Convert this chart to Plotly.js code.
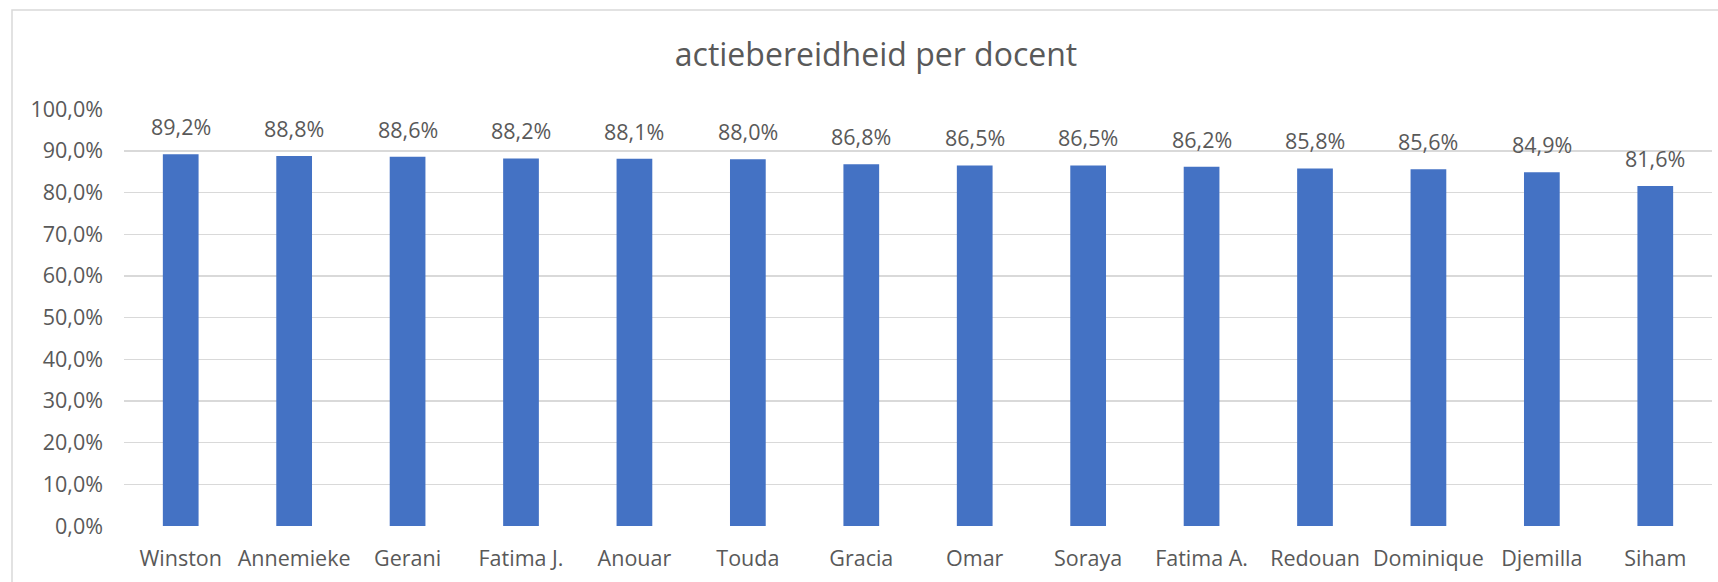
<!DOCTYPE html>
<html>
<head>
<meta charset="utf-8">
<script src="https://cdn.plot.ly/plotly-3.0.1.min.js"></script>
<style>
  html, body { margin: 0; padding: 0; background: #ffffff; }
  #chart { width: 1718px; height: 582px; }
</style>
</head>
<body>
<div id="chart"></div>
<script>
// ---- data ----
const categories = ['Winston', 'Annemieke', 'Gerani', 'Fatima J.', 'Anouar', 'Touda', 'Gracia',
                    'Omar', 'Soraya', 'Fatima A.', 'Redouan', 'Dominique', 'Djemilla', 'Siham'];
const values = [0.892, 0.888, 0.886, 0.882, 0.881, 0.880, 0.868,
                0.865, 0.865, 0.862, 0.858, 0.856, 0.849, 0.816];
const titleText = 'actiebereidheid per docent';

// ---- styles ----
const FONT = 'Open Sans, Noto Sans, sans-serif';
const TEXT_COLOR = '#595959';
const BAR_COLOR = '#4472C4';
const GRID_COLOR = '#D9D9D9';

function fmtPct(v) {
  return (v * 100).toFixed(1).replace('.', ',') + '%';
}

const trace = {
  type: 'bar',
  x: categories,
  y: values,
  marker: { color: BAR_COLOR, line: { width: 0 } },
  hoverinfo: 'x+y'
};

const annotations = categories.map((c, i) => ({
  x: c,
  y: values[i],
  xref: 'x',
  yref: 'y',
  text: fmtPct(values[i]),
  showarrow: false,
  yanchor: 'bottom',
  yshift: 11,
  font: { family: FONT, size: 21.5, color: TEXT_COLOR }
}));

const L = 124, R = 6, T = 109, B = 56;
const W = 1718, H = 582;
const pw = W - L - R, ph = H - T - B;
function px2paperX(px) { return (px - L) / pw; }
function px2paperY(py) { return (H - B - py) / ph; }

const layout = {
  width: W,
  height: H,
  margin: { l: L, r: R, t: T, b: B, pad: 0 },
  paper_bgcolor: '#ffffff',
  plot_bgcolor: '#ffffff',
  separators: ', ',
  showlegend: false,
  bargap: 0.685,
  title: {
    text: titleText,
    font: { family: FONT, size: 32, color: TEXT_COLOR },
    x: 876 / W,
    xanchor: 'center',
    xref: 'container',
    y: 1 - 55 / H,
    yanchor: 'middle',
    yref: 'container'
  },
  xaxis: {
    type: 'category',
    showgrid: false,
    showline: false,
    zeroline: false,
    ticks: '',
    tickfont: { family: FONT, size: 21.5, color: TEXT_COLOR },
    ticklabelstandoff: 17
  },
  yaxis: {
    range: [0, 1.0005],
    tickvals: [0, 0.1, 0.2, 0.3, 0.4, 0.5, 0.6, 0.7, 0.8, 0.9, 1.0],
    tickformat: '.1%',
    showgrid: true,
    gridcolor: GRID_COLOR,
    gridwidth: 1.5,
    zeroline: false,
    showline: false,
    ticks: '',
    tickfont: { family: FONT, size: 21.5, color: TEXT_COLOR },
    ticklabelstandoff: 20
  },
  annotations: annotations,
  shapes: [{
    type: 'rect',
    xref: 'paper', yref: 'paper',
    x0: px2paperX(12), x1: px2paperX(W + 20),
    y0: px2paperY(H + 20), y1: px2paperY(10),
    line: { color: GRID_COLOR, width: 1.5 },
    fillcolor: 'rgba(0,0,0,0)',
    layer: 'below'
  }]
};

Plotly.newPlot('chart', [trace], layout, { displayModeBar: false, staticPlot: true });
</script>
</body>
</html>
